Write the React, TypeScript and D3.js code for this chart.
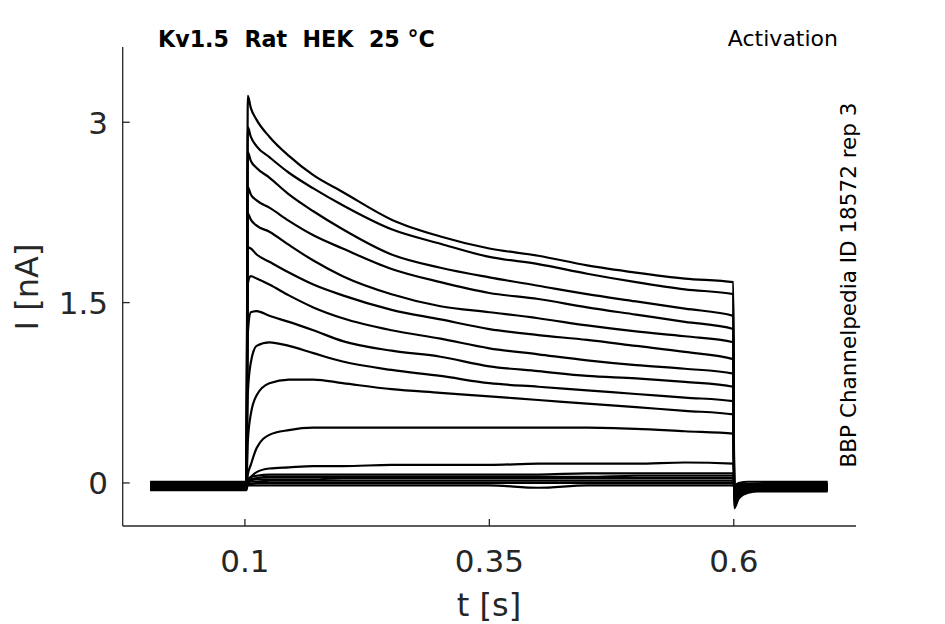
import * as d3 from "d3";
import React from "react";

// sweep timing (s)
const preTimes = [0.003, 0.05, 0.1015];
const pulseTimes = [0.103, 0.106, 0.112, 0.125, 0.145, 0.17, 0.2, 0.25, 0.3, 0.35, 0.4, 0.45, 0.5, 0.55, 0.5995];
const tailTimes = [0.6005, 0.605, 0.615, 0.635, 0.696];

// holding current before the step, one per sweep (nA)
const holding = [-0.03, -0.02, -0.04, -0.01, -0.03, -0.02, -0.05, 0.0, -0.03, -0.02, -0.04, 0.01, -0.02, -0.03, -0.01, -0.06, -0.02, -0.04];

// current during the step (nA), read at pulseTimes
const pulse = [
  [3.22, 3.12, 3.02, 2.88, 2.72, 2.56, 2.42, 2.19, 2.05, 1.95, 1.89, 1.81, 1.75, 1.7, 1.67],
  [2.96, 2.88, 2.8, 2.71, 2.58, 2.45, 2.31, 2.11, 1.99, 1.88, 1.82, 1.74, 1.67, 1.61, 1.57],
  [2.75, 2.68, 2.62, 2.54, 2.4, 2.26, 2.11, 1.9, 1.79, 1.71, 1.64, 1.57, 1.51, 1.45, 1.39],
  [2.46, 2.4, 2.35, 2.29, 2.18, 2.06, 1.95, 1.78, 1.67, 1.58, 1.53, 1.46, 1.4, 1.34, 1.28],
  [2.24, 2.19, 2.14, 2.09, 1.98, 1.85, 1.72, 1.57, 1.47, 1.42, 1.37, 1.31, 1.26, 1.22, 1.17],
  [1.96, 1.95, 1.9, 1.84, 1.75, 1.65, 1.56, 1.44, 1.36, 1.28, 1.23, 1.19, 1.14, 1.09, 1.03],
  [1.66, 1.72, 1.7, 1.65, 1.56, 1.46, 1.37, 1.27, 1.2, 1.12, 1.07, 1.02, 0.98, 0.95, 0.91],
  [1.25, 1.42, 1.43, 1.39, 1.34, 1.27, 1.18, 1.1, 1.05, 0.97, 0.93, 0.89, 0.87, 0.84, 0.8],
  [0.75, 1.0, 1.14, 1.17, 1.14, 1.08, 1.01, 0.94, 0.89, 0.83, 0.8, 0.77, 0.74, 0.71, 0.68],
  [0.35, 0.57, 0.73, 0.83, 0.86, 0.86, 0.83, 0.78, 0.75, 0.72, 0.69, 0.66, 0.63, 0.6, 0.57],
  [0.07, 0.15, 0.29, 0.4, 0.44, 0.46, 0.46, 0.46, 0.46, 0.46, 0.46, 0.46, 0.45, 0.43, 0.41],
  [0.02, 0.05, 0.09, 0.12, 0.13, 0.14, 0.14, 0.15, 0.15, 0.15, 0.16, 0.16, 0.16, 0.17, 0.16],
  [0.03, 0.05, 0.06, 0.07, 0.07, 0.07, 0.07, 0.07, 0.07, 0.07, 0.07, 0.08, 0.08, 0.08, 0.08],
  [0.02, 0.03, 0.04, 0.05, 0.05, 0.05, 0.05, 0.05, 0.05, 0.05, 0.05, 0.05, 0.06, 0.06, 0.06],
  [0.01, 0.02, 0.03, 0.03, 0.03, 0.03, 0.04, 0.04, 0.04, 0.04, 0.04, 0.04, 0.04, 0.04, 0.04],
  [0.0, 0.01, 0.01, 0.02, 0.02, 0.02, 0.02, 0.02, 0.02, 0.02, 0.02, 0.02, 0.02, 0.02, 0.02],
  [-0.01, -0.01, 0.0, 0.0, 0.0, 0.0, 0.0, 0.0, 0.0, 0.0, 0.0, 0.0, 0.0, 0.0, 0.0],
  [-0.02, -0.02, -0.02, -0.02, -0.02, -0.02, -0.02, -0.02, -0.02, -0.02, -0.04, -0.02, -0.02, -0.02, -0.02],
];

// tail current after the step (nA), read at tailTimes
const tail = [
  [-0.21, -0.13, -0.08, -0.06, -0.05],
  [-0.19, -0.12, -0.07, -0.06, -0.06],
  [-0.17, -0.11, -0.06, -0.05, -0.04],
  [-0.15, -0.1, -0.07, -0.07, -0.07],
  [-0.13, -0.09, -0.05, -0.04, -0.03],
  [-0.12, -0.08, -0.06, -0.05, -0.05],
  [-0.1, -0.06, -0.03, -0.02, -0.02],
  [-0.08, -0.07, -0.06, -0.06, -0.06],
  [-0.07, -0.04, -0.02, -0.01, -0.01],
  [-0.06, -0.05, -0.04, -0.04, -0.04],
  [-0.04, -0.02, -0.01, 0.0, 0.0],
  [-0.03, -0.03, -0.03, -0.03, -0.03],
  [-0.02, 0.0, 0.01, 0.01, 0.01],
  [-0.02, -0.02, -0.02, -0.02, -0.02],
  [-0.03, -0.04, -0.05, -0.05, -0.05],
  [-0.02, -0.01, -0.01, -0.01, -0.01],
  [-0.03, -0.04, -0.04, -0.04, -0.04],
  [-0.04, -0.05, -0.06, -0.06, -0.06],
];

const xTicks = [0.1, 0.35, 0.6];
const yTicks = [0, 1.5, 3];

const W = 945;
const H = 624;
const left = 122.7;
const right = 856;
const top = 47;
const bottom = 526;

const axisColor = "#262626";
const font = "'DejaVu Sans', sans-serif";

export default function App() {
  const x = d3.scaleLinear().domain([-0.025, 0.725]).range([left, right]);
  const y = d3.scaleLinear().domain([-0.358, 3.626]).range([bottom, top]);

  const line = d3
    .line<[number, number]>()
    .x((d) => x(d[0]))
    .y((d) => y(d[1]))
    .curve(d3.curveMonotoneX);

  const sweeps = pulse.map((vals, i) => {
    const pts: [number, number][] = [
      ...preTimes.map((t) => [t, holding[i]] as [number, number]),
      ...pulseTimes.map((t, j) => [t, vals[j]] as [number, number]),
      ...tailTimes.map((t, j) => [t, tail[i][j]] as [number, number]),
    ];
    return line(pts) || "";
  });

  return (
    <svg
      width={W}
      height={H}
      style={{ position: "absolute", left: 0, top: 0, background: "#fff" }}
    >
      <g fill="none" stroke="#000" strokeWidth={2.2} strokeLinejoin="round">
        {sweeps.map((d, i) => (
          <path key={i} d={d} />
        ))}
      </g>

      {/* axes */}
      <g stroke={axisColor} strokeWidth={1.3} fill="none">
        <line x1={left} x2={left} y1={top} y2={bottom} />
        <line x1={left} x2={right} y1={bottom} y2={bottom} />
        {xTicks.map((t) => (
          <line key={t} x1={x(t)} x2={x(t)} y1={bottom} y2={bottom - 7} />
        ))}
        {yTicks.map((v) => (
          <line key={v} x1={left} x2={left + 7} y1={y(v)} y2={y(v)} />
        ))}
      </g>

      <g fill={axisColor} fontFamily={font} fontSize={31}>
        {xTicks.map((t) => (
          <text key={t} x={x(t)} y={572} textAnchor="middle">
            {String(t)}
          </text>
        ))}
        {yTicks.map((v) => (
          <text key={v} x={108} y={y(v) + 11.5} textAnchor="end">
            {String(v)}
          </text>
        ))}
        <text x={489} y={616} textAnchor="middle" fontSize={32}>
          t [s]
        </text>
        <text
          transform={`translate(38,287) rotate(-90)`}
          textAnchor="middle"
          fontSize={32}
        >
          I [nA]
        </text>
      </g>

      <text
        x={158}
        y={47}
        fontFamily={font}
        fontSize={22.2}
        fontWeight="bold"
        fill="#000"
        style={{ whiteSpace: "pre" }}
      >
        {"Kv1.5  Rat  HEK  25 °C"}
      </text>
      <text x={838} y={46} fontFamily={font} fontSize={22} textAnchor="end" fill="#000">
        Activation
      </text>
      <text
        transform={`translate(856,285) rotate(-90)`}
        fontFamily={font}
        fontSize={21.5}
        textAnchor="middle"
        fill="#000"
      >
        BBP Channelpedia ID 18572 rep 3
      </text>
    </svg>
  );
}
